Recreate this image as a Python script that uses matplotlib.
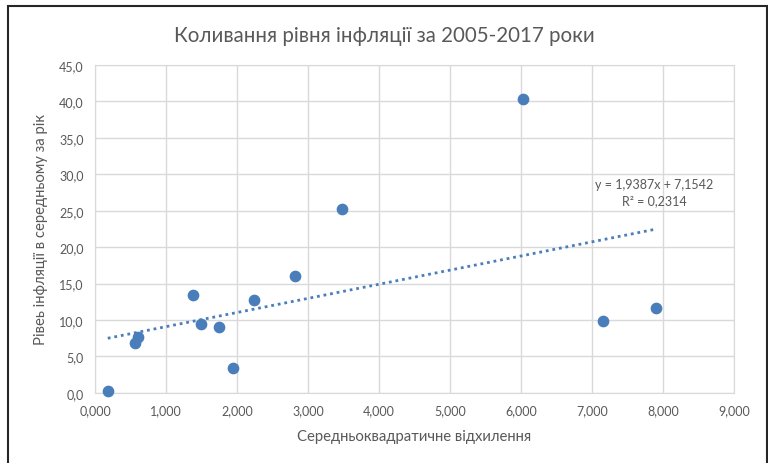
import matplotlib.pyplot as plt
from matplotlib.patches import Rectangle
from matplotlib.ticker import FuncFormatter
import numpy as np

plt.rcParams['font.family'] = ['Lato', 'DejaVu Sans']

# середньоквадратичне відхилення та рівень інфляції
std_dev = [0.18, 0.57, 0.60, 1.38, 1.49, 1.74, 1.95, 2.24, 2.81, 3.48, 6.03, 7.15, 7.90]
inflation = [0.2, 6.8, 7.7, 13.5, 9.4, 9.1, 3.4, 12.8, 16.0, 25.3, 40.3, 9.9, 11.6]

slope = 1.9387
intercept = 7.1542
r2 = 0.2314

TEXT = "#595959"
GRID = "#d9d9d9"
BLUE = "#4a7ebb"

fig = plt.figure(figsize=(7.68, 4.64), dpi=100)
ax = fig.add_axes([0.1237, 0.151, 0.832, 0.707])

ax.scatter(std_dev, inflation, s=55, color=BLUE, zorder=3, clip_on=False)

x_line = np.array([min(std_dev), max(std_dev)])
ax.plot(x_line, slope * x_line + intercept, color=BLUE, linestyle=(0, (1, 1.4)), linewidth=2, zorder=2)

ax.text(7.88, 28.7, "y = 1,9387x + 7,1542", ha="center", va="center", fontsize=9, color=TEXT)
ax.text(7.88, 26.5, "R² = 0,2314", ha="center", va="center", fontsize=9, color=TEXT)

ax.set_xlim(0, 9)
ax.set_ylim(0, 45)
ax.set_xticks(np.arange(0, 10, 1))
ax.set_yticks(np.arange(0, 50, 5))
ax.xaxis.set_major_formatter(FuncFormatter(lambda v, p: ("%.3f" % v).replace(".", ",")))
ax.yaxis.set_major_formatter(FuncFormatter(lambda v, p: ("%.1f" % v).replace(".", ",")))
ax.tick_params(length=0, labelsize=9, colors=TEXT, pad=8)
ax.grid(True, color=GRID, linewidth=1)
ax.set_axisbelow(True)
for s in ax.spines.values():
    s.set_color(GRID)

ax.set_xlabel("Середньоквадратичне відхилення", fontsize=10.7, color=TEXT, labelpad=9)
ax.set_ylabel("Рівеь інфляції в середньому за рік", fontsize=10.7, color=TEXT, labelpad=8)
fig.suptitle("Коливання рівня інфляції за 2005-2017 роки", fontsize=14.8, color=TEXT, y=0.945)

# рамка діаграми
fig.patches.append(Rectangle((8 / 768, -0.05), 759 / 768, 1.05 - 7 / 464, transform=fig.transFigure,
                             fill=False, edgecolor="#262626", linewidth=1.5))

fig.savefig("out.png", dpi=100)
